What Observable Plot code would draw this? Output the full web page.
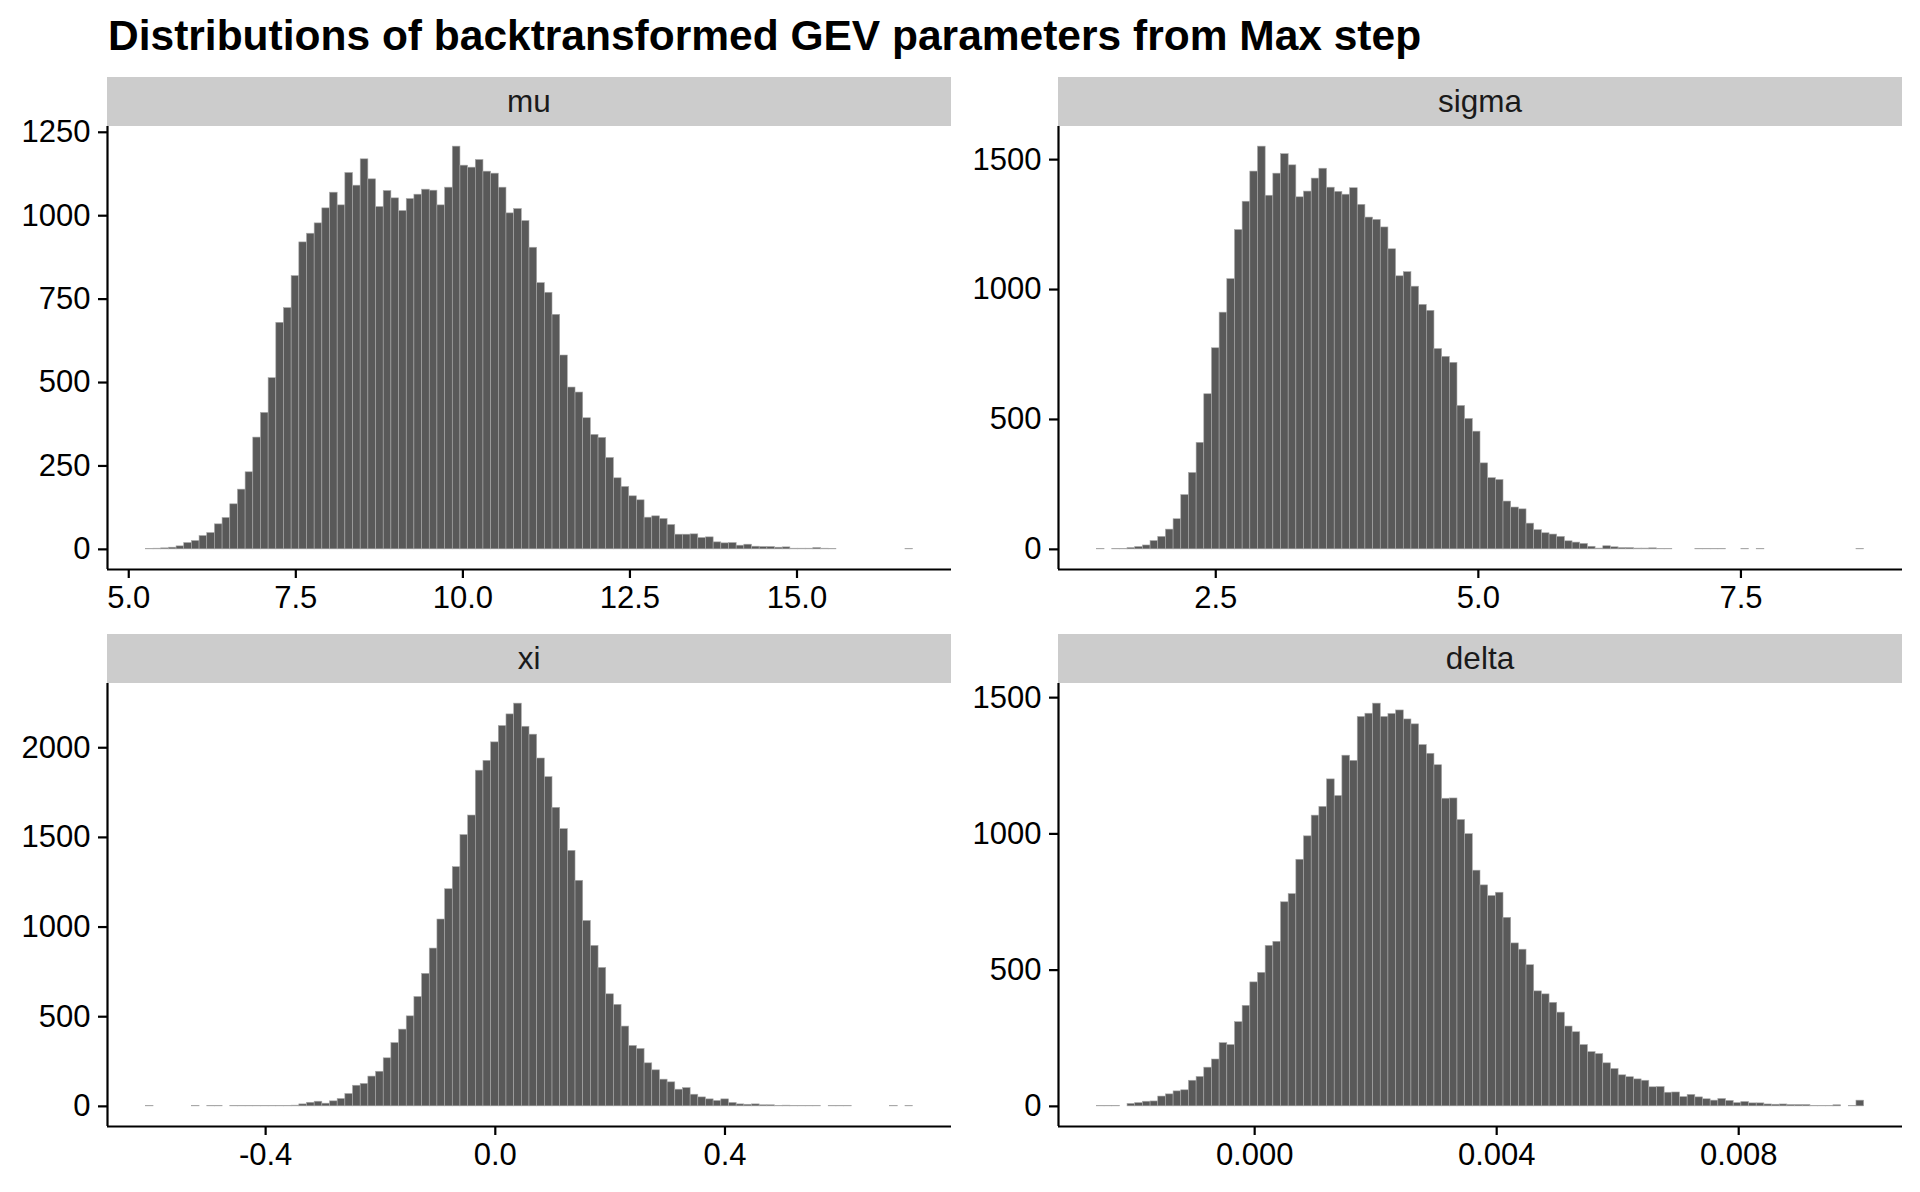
<!DOCTYPE html>
<html>
<head>
<meta charset="utf-8">
<script src="https://cdn.jsdelivr.net/npm/d3@7"></script>
<script src="https://cdn.jsdelivr.net/npm/@observablehq/plot@0.6"></script>
<style>
  body { margin: 0; background: #ffffff; }
  #chart { position: relative; width: 1920px; height: 1192px; background: #ffffff;
           font-family: "Liberation Sans", Arial, Helvetica, sans-serif; overflow: hidden; }
  .title { position: absolute; left: 108px; top: 15px; font-size: 42.5px; font-weight: bold;
           line-height: 42.5px; white-space: nowrap; color: #000; }
  .strip { position: absolute; background: #cccccc; display: flex; align-items: center;
           justify-content: center; font-size: 31.5px; color: #1a1a1a; }
  .panel { position: absolute; }
  .panel svg { overflow: visible; }
</style>
</head>
<body>
<div id="chart"></div>
<script>
// ---- Data (histogram counts, 100 bins per parameter) ----
const titleText = "Distributions of backtransformed GEV parameters from Max step";
const paramNames = ["mu", "sigma", "xi", "delta"];

const muRange = [5.256, 16.738];
const muCounts = [1,2,3,5,9,19,25,40,49,75,94,135,179,231,335,409,513,679,723,819,
  920,946,977,1022,1069,1031,1128,1090,1169,1109,1026,1074,1052,1014,1050,1063,1078,1075,1031,1084,
  1207,1150,1144,1167,1132,1126,1084,1007,1020,984,904,798,769,703,581,485,470,393,343,334,
  274,213,187,159,147,95,99,91,73,44,44,45,34,36,21,18,19,11,14,8,
  7,7,5,6,2,2,2,4,2,1,0,0,0,0,0,0,0,0,0,1];
const muXTicks = [5, 7.5, 10, 12.5, 15];
const muXLabels = ["5.0", "7.5", "10.0", "12.5", "15.0"];
const muYTicks = [0, 250, 500, 750, 1000, 1250];

const sigmaRange = [1.368, 8.673];
const sigmaCounts = [1,0,1,2,5,9,15,32,48,76,116,209,294,410,597,774,911,1040,1229,1338,
  1454,1550,1361,1446,1521,1478,1355,1377,1427,1465,1392,1376,1365,1390,1326,1277,1268,1239,1155,1051,
  1067,1011,941,918,771,741,718,552,502,453,331,274,267,184,161,154,99,74,62,57,
  48,31,26,21,10,3,12,8,5,5,3,3,4,1,2,0,0,0,1,1,
  1,1,0,0,1,0,1,0,0,0,0,0,0,0,0,0,0,0,0,1];
const sigmaXTicks = [2.5, 5, 7.5];
const sigmaXLabels = ["2.5", "5.0", "7.5"];
const sigmaYTicks = [0, 500, 1000, 1500];

const xiRange = [-0.6086, 0.7277];
const xiCounts = [1,0,0,0,0,0,1,0,1,1,0,1,2,2,1,2,2,2,2,4,
  11,20,26,15,28,41,69,115,125,166,193,268,353,428,502,610,739,880,1042,1211,
  1334,1513,1622,1872,1927,2030,2121,2186,2246,2117,2073,1940,1836,1665,1546,1425,1258,1034,895,772,
  625,566,445,337,320,240,201,149,134,93,102,65,50,39,30,39,19,11,9,11,
  6,6,2,4,2,2,2,1,0,1,1,1,0,0,0,0,0,1,0,1];
const xiXTicks = [-0.4, 0, 0.4];
const xiXLabels = ["-0.4", "0.0", "0.4"];
const xiYTicks = [0, 500, 1000, 1500, 2000];

const deltaRange = [-0.002608, 0.010073];
const deltaCounts = [1,1,2,0,9,12,17,18,36,44,55,59,94,108,142,172,232,225,309,369,
  455,490,589,604,749,779,905,991,1067,1099,1200,1139,1287,1268,1429,1441,1478,1429,1440,1453,
  1420,1402,1326,1294,1252,1129,1130,1051,999,865,811,772,784,692,598,575,518,422,411,380,
  344,293,272,225,199,192,158,137,114,107,99,94,70,71,50,51,34,42,33,26,
  21,27,20,12,16,11,11,7,6,7,5,5,5,2,1,2,4,0,2,21];
const deltaXTicks = [0, 0.004, 0.008];
const deltaXLabels = ["0.000", "0.004", "0.008"];
const deltaYTicks = [0, 500, 1000, 1500];

// ---- Layout ----
const chart = document.getElementById("chart");
const title = document.createElement("div");
title.className = "title";
title.textContent = titleText;
chart.appendChild(title);

const PLOT_W = 844, PLOT_H = 443, ML = 107, MB = 70;
const colLeft = [0, 951];
const stripTop = [77, 634];
const stripH = [48.5, 49];
const svgTop = [125.5, 683];

function histPanel(counts, range, xTicks, xLabels, yTicks) {
  const n = counts.length;
  const [lo, hi] = range;
  const w = (hi - lo) / n;
  const bins = counts.map((c, i) => ({x1: lo + i * w, x2: lo + (i + 1) * w, count: c}))
                     .filter(d => d.count > 0);
  const span = hi - lo;
  const ymax = d3.max(counts);
  const xlo = lo - 0.05 * span, xhi = hi + 0.05 * span;
  const ylo = -0.05 * ymax, yhi = 1.05 * ymax;
  return Plot.plot({
    width: ML + PLOT_W, height: PLOT_H + MB,
    marginLeft: ML, marginRight: 0, marginTop: 0, marginBottom: MB,
    x: {domain: [xlo, xhi]},
    y: {domain: [ylo, yhi]},
    style: {fontFamily: '"Liberation Sans", Arial, Helvetica, sans-serif', fontSize: "31px",
            color: "#000", background: "transparent", overflow: "visible"},
    marks: [
      Plot.rectY(bins, {x1: "x1", x2: "x2", y: "count", fill: "#595959",
                        stroke: "#a9a9a9", strokeWidth: 0.6}),
      Plot.ruleY([ylo], {stroke: "#000", strokeWidth: 2.2}),
      Plot.ruleX([xlo], {stroke: "#000", strokeWidth: 2.2}),
      Plot.axisX(xTicks, {tickFormat: d => xLabels[xTicks.indexOf(d)], tickSize: 9,
                          tickPadding: 7, strokeWidth: 2.2, label: null, fill: "#000"}),
      Plot.axisY(yTicks, {tickFormat: d => String(d), tickSize: 9, tickPadding: 8,
                          strokeWidth: 2.2, label: null, fill: "#000"})
    ]
  });
}

const panels = [
  {name: paramNames[0], counts: muCounts, range: muRange, xt: muXTicks, xl: muXLabels, yt: muYTicks, r: 0, c: 0},
  {name: paramNames[1], counts: sigmaCounts, range: sigmaRange, xt: sigmaXTicks, xl: sigmaXLabels, yt: sigmaYTicks, r: 0, c: 1},
  {name: paramNames[2], counts: xiCounts, range: xiRange, xt: xiXTicks, xl: xiXLabels, yt: xiYTicks, r: 1, c: 0},
  {name: paramNames[3], counts: deltaCounts, range: deltaRange, xt: deltaXTicks, xl: deltaXLabels, yt: deltaYTicks, r: 1, c: 1}
];

for (const p of panels) {
  const strip = document.createElement("div");
  strip.className = "strip";
  strip.style.left = (colLeft[p.c] + ML) + "px";
  strip.style.top = stripTop[p.r] + "px";
  strip.style.width = PLOT_W + "px";
  strip.style.height = stripH[p.r] + "px";
  strip.textContent = p.name;
  chart.appendChild(strip);

  const holder = document.createElement("div");
  holder.className = "panel";
  holder.style.left = colLeft[p.c] + "px";
  holder.style.top = svgTop[p.r] + "px";
  holder.appendChild(histPanel(p.counts, p.range, p.xt, p.xl, p.yt));
  chart.appendChild(holder);
}
</script>
</body>
</html>
